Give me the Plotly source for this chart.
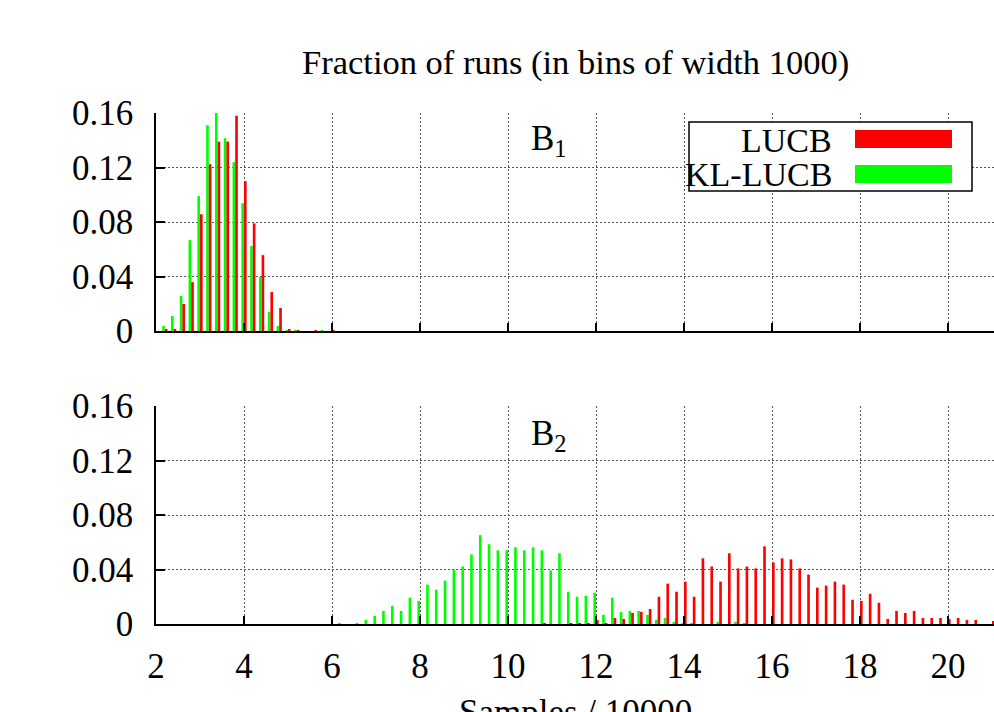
import plotly.graph_objects as go

# ---------------- data ----------------
top_x = [2.2, 2.4, 2.6, 2.8, 3.0, 3.2, 3.4, 3.6, 3.8, 4.0,
         4.2, 4.4, 4.6, 4.8, 5.0, 5.2, 5.4, 5.6, 5.8, 6.0]
top_lucb = [0.0015, 0.0015, 0.0198, 0.0359, 0.0857, 0.1224, 0.139, 0.139, 0.158, 0.110,
            0.079, 0.0557, 0.0286, 0.0169, 0.0015, 0.0007, 0.0, 0.0007, 0.0, 0.0007]
top_kl = [0.0037, 0.011, 0.0257, 0.0667, 0.099, 0.151, 0.160, 0.1415, 0.124, 0.0938,
          0.0623, 0.0396, 0.0139, 0.0037, 0.0007, 0.0007, 0.0, 0.0, 0.0007, 0.0]

bot_x = [6.2, 6.4, 6.6, 6.8, 7.0, 7.2, 7.4, 7.6, 7.8, 8.0,
         8.2, 8.4, 8.6, 8.8, 9.0, 9.2, 9.4, 9.6, 9.8, 10.0,
         10.2, 10.4, 10.6, 10.8, 11.0, 11.2, 11.4, 11.6, 11.8, 12.0,
         12.2, 12.4, 12.6, 12.8, 13.0, 13.2, 13.4, 13.6, 13.8, 14.0,
         14.2, 14.4, 14.6, 14.8, 15.0, 15.2, 15.4, 15.6, 15.8, 16.0,
         16.2, 16.4, 16.6, 16.8, 17.0, 17.2, 17.4, 17.6, 17.8, 18.0,
         18.2, 18.4, 18.6, 18.8, 19.0, 19.2, 19.4, 19.6, 19.8, 20.0,
         20.2, 20.4, 20.6, 20.8, 21.0]
bot_kl = [0.0007, 0.0, 0.0007, 0.003, 0.0059, 0.0096, 0.0133, 0.0096, 0.0193, 0.017,
          0.0289, 0.0252, 0.0319, 0.040, 0.0422, 0.0511, 0.0652, 0.0585, 0.0541, 0.0541,
          0.0563, 0.0541, 0.0563, 0.0541, 0.0393, 0.0519, 0.0237, 0.020, 0.0207, 0.023,
          0.0067, 0.0193, 0.0089, 0.0096, 0.0096, 0.0067, 0.003, 0.0044, 0.0015, 0.0007,
          0.0007, 0.0, 0.0, 0.0015, 0.0, 0.0015, 0.0007, 0.0, 0.0, 0.0,
          0.0, 0.0, 0.0, 0.0, 0.0, 0.0, 0.0, 0.0, 0.0, 0.0,
          0.0, 0.0, 0.0, 0.0, 0.0, 0.0, 0.0, 0.0, 0.0, 0.0,
          0.0, 0.0, 0.0, 0.0, 0.0]
bot_lucb = [0.0, 0.0, 0.0, 0.0, 0.0, 0.0, 0.0, 0.0, 0.0, 0.0,
            0.0, 0.0, 0.0, 0.0, 0.0, 0.0, 0.0, 0.0, 0.0, 0.0,
            0.0, 0.0, 0.0, 0.0007, 0.0, 0.0, 0.0007, 0.0007, 0.0007, 0.003,
            0.0007, 0.0044, 0.0037, 0.0081, 0.0089, 0.011, 0.020, 0.0296, 0.0237, 0.0311,
            0.020, 0.0482, 0.0422, 0.0311, 0.0519, 0.0408, 0.0422, 0.0408, 0.057, 0.0452,
            0.0482, 0.0474, 0.0408, 0.0363, 0.0267, 0.0282, 0.0311, 0.0289, 0.0178, 0.017,
            0.0222, 0.0156, 0.0037, 0.0096, 0.0081, 0.0096, 0.0044, 0.0044, 0.0044, 0.0037,
            0.0044, 0.003, 0.003, 0.0, 0.0022]

x_ticks = [2, 4, 6, 8, 10, 12, 14, 16, 18, 20]
y_ticks = [0, 0.04, 0.08, 0.12, 0.16]
y_tick_labels = ["0", "0.04", "0.08", "0.12", "0.16"]

series_names = ["LUCB", "KL-LUCB"]
RED = "#ff0000"
GREEN = "#00ff00"

# ---------------- layout helpers ----------------
W, H = 994, 712
ML = 156


def px_x(p):
    return (p - ML) / (W - ML)


def px_y(p):
    return 1 - p / H


FONT = "Liberation Serif, Times New Roman, serif"
FS = 35
FS_TITLE = 34.5
FS_LEG = 34

fig = go.Figure()

BW = 0.06
for xs, lucb, kl, xa, ya in [(top_x, top_lucb, top_kl, "x", "y"),
                             (bot_x, bot_lucb, bot_kl, "x2", "y2")]:
    fig.add_trace(go.Bar(x=xs, y=kl, width=BW, offset=-BW, marker=dict(color=GREEN, line=dict(width=0)),
                         name=series_names[1], showlegend=False, xaxis=xa, yaxis=ya))
    fig.add_trace(go.Bar(x=xs, y=lucb, width=BW, offset=0, marker=dict(color=RED, line=dict(width=0)),
                         name=series_names[0], showlegend=False, xaxis=xa, yaxis=ya))

xaxis_common = dict(
    range=[2, 2 + (W - ML) / 44.0], tickvals=x_ticks,
    showgrid=True, gridcolor="#555555", griddash="1.5px,2.5px", gridwidth=1,
    showline=True, linecolor="black", linewidth=1.5,
    ticks="inside", ticklen=8, tickwidth=1.5, tickcolor="black",
    zeroline=False, tickfont=dict(family=FONT, size=FS, color="black"),
    automargin=False,
)
yaxis_common = dict(
    range=[0, 0.16], tickvals=y_ticks, ticktext=y_tick_labels,
    showgrid=True, gridcolor="#555555", griddash="1.5px,2.5px", gridwidth=1,
    showline=True, linecolor="black", linewidth=1.5,
    ticks="inside", ticklen=9, tickwidth=1.5, tickcolor="black",
    zeroline=False, tickfont=dict(family=FONT, size=FS, color="black"),
    ticklabelstandoff=14, automargin=False,
)

fig.update_layout(
    template="none",
    width=W, height=H,
    margin=dict(l=ML, r=0, t=0, b=0, pad=0, autoexpand=False),
    paper_bgcolor="white", plot_bgcolor="white",
    barmode="overlay",
    xaxis=dict(**xaxis_common, domain=[0, 1], anchor="y", showticklabels=False),
    yaxis=dict(**yaxis_common, domain=[px_y(331), px_y(113)], anchor="x"),
    xaxis2=dict(**xaxis_common, domain=[0, 1], anchor="y2", ticklabelstandoff=10),
    yaxis2=dict(**yaxis_common, domain=[px_y(624), px_y(406)], anchor="x2"),
    showlegend=False,
)

annotations = [
    dict(text="Fraction of runs (in bins of width 1000)", x=px_x(575), y=px_y(62),
         xref="paper", yref="paper", xanchor="center", yanchor="middle", showarrow=False,
         font=dict(family=FONT, size=FS_TITLE, color="black")),
    dict(text="Samples / 10000", x=px_x(575), y=px_y(691),
         xref="paper", yref="paper", xanchor="center", yanchor="top", showarrow=False,
         font=dict(family=FONT, size=FS, color="black")),
    dict(text="B<sub>1</sub>", x=px_x(529), y=px_y(140),
         xref="paper", yref="paper", xanchor="left", yanchor="middle", showarrow=False,
         font=dict(family=FONT, size=FS, color="black")),
    dict(text="B<sub>2</sub>", x=px_x(529), y=px_y(435),
         xref="paper", yref="paper", xanchor="left", yanchor="middle", showarrow=False,
         font=dict(family=FONT, size=FS, color="black")),
    dict(text=series_names[0], x=px_x(834), y=px_y(140),
         xref="paper", yref="paper", xanchor="right", yanchor="middle", showarrow=False,
         font=dict(family=FONT, size=FS_LEG, color="black")),
    dict(text=series_names[1], x=px_x(834), y=px_y(174),
         xref="paper", yref="paper", xanchor="right", yanchor="middle", showarrow=False,
         font=dict(family=FONT, size=FS_LEG, color="black")),
]
fig.update_layout(annotations=annotations)

shapes = [
    dict(type="rect", xref="paper", yref="paper", x0=px_x(689), x1=px_x(972), y0=px_y(191), y1=px_y(122),
         line=dict(color="black", width=1.5), fillcolor="white", layer="above"),
    dict(type="rect", xref="paper", yref="paper", x0=px_x(855), x1=px_x(952), y0=px_y(148), y1=px_y(130),
         line=dict(width=0), fillcolor=RED, layer="above"),
    dict(type="rect", xref="paper", yref="paper", x0=px_x(855), x1=px_x(952), y0=px_y(183), y1=px_y(165),
         line=dict(width=0), fillcolor=GREEN, layer="above"),
]
fig.update_layout(shapes=shapes)

fig.write_html("out.html")
